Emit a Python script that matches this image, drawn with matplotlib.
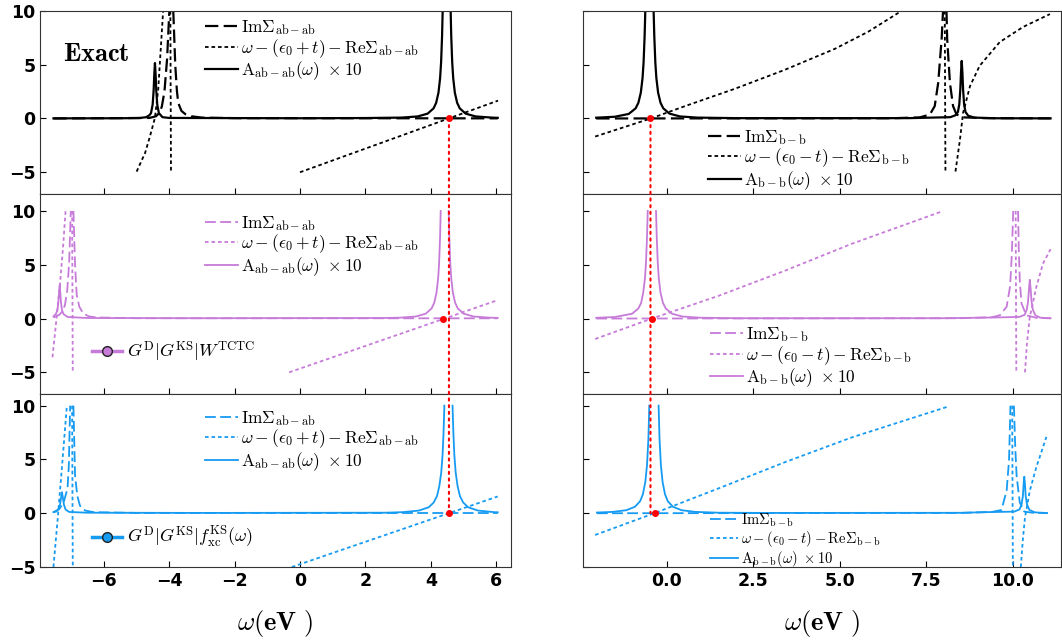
import numpy as np
import matplotlib.pyplot as plt
from matplotlib.lines import Line2D
from matplotlib.patches import ConnectionPatch

plt.rcParams['mathtext.fontset'] = 'cm'
plt.rcParams['font.weight'] = 'bold'

nan = np.nan

# ---------------- data ----------------
# top-left: exact, bonding-antibonding block
tl_A_x = [-7.53, -5.5, -4.9, -4.7, -4.6, -4.55, -4.50, -4.47, -4.45, -4.43, -4.41, -4.39, -4.36, -4.31, -4.2, -4.0,
          0.0, 2.0, 3.1, 3.6, 3.9, 4.08, 4.16, 4.23, 4.28, 4.31, 4.34, 4.358, nan,
          4.602, 4.62, 4.65, 4.68, 4.73, 4.8, 4.88, 5.06, 5.36, 5.86, 6.04]
tl_A_y = [0.01, 0.02, 0.04, 0.12, 0.3, 0.5, 1.3, 2.6, 4.1, 5.15, 4.1, 2.6, 1.3, 0.5, 0.12, 0.05,
          0.02, 0.04, 0.08, 0.19, 0.45, 0.94, 1.46, 2.4, 3.75, 5.2, 7.65, 10.0, nan,
          10.0, 7.65, 5.2, 3.75, 2.4, 1.46, 0.94, 0.45, 0.19, 0.08, 0.06]
tl_Im_x = [-7.53, -4.6, -4.4, -4.3, -4.22, -4.14, -4.06, -3.99, nan,
           -3.87, -3.81, -3.76, -3.72, -3.62, -3.5, -3.31, -3.0, -2.0, 6.04]
tl_Im_y = [0.0, 0.05, 0.2, 0.5, 1.1, 2.5, 5.5, 10.0, nan,
           10.0, 5.0, 2.6, 1.45, 0.7, 0.4, 0.2, 0.08, 0.03, 0.01]
tl_Re_x = [-4.99, -4.73, -4.58, -4.43, -4.33, -4.26, -4.18, nan, -3.96, -3.94, nan, 0.0, 3.0, 6.05]
tl_Re_y = [-4.94, -3.2, -1.64, 0.06, 2.7, 6.1, 10.0, nan, 10.0, -5.0, nan, -5.0, -1.7, 1.66]
tl_dot_x = 4.55

# middle-left: G^D|G^KS|W^TCTC
ml_A_x = [-7.53, -7.45, -7.41, -7.38, -7.36, -7.34, -7.32, -7.30, -7.27, -7.22, -7.1, -6.5, -3.0, 2.5,
          3.04, 3.54, 3.84, 4.02, 4.10, 4.17, 4.22, 4.25, 4.28, 4.298, nan,
          4.542, 4.56, 4.59, 4.62, 4.67, 4.74, 4.82, 5.0, 5.3, 5.8, 6.04]
ml_A_y = [0.2, 0.45, 0.8, 1.5, 2.4, 3.1, 2.4, 1.5, 0.8, 0.4, 0.15, 0.05, 0.03, 0.05,
          0.08, 0.19, 0.45, 0.94, 1.46, 2.4, 3.75, 5.2, 7.65, 10.0, nan,
          10.0, 7.65, 5.2, 3.75, 2.4, 1.46, 0.94, 0.45, 0.19, 0.08, 0.06]
ml_Im_x = [-7.53, -7.35, -7.25, -7.18, -7.11, -7.05, -7.0, nan,
           -6.92, -6.87, -6.82, -6.74, -6.62, -6.45, -6.2, -5.0, 6.04]
ml_Im_y = [0.1, 0.35, 0.7, 1.24, 2.6, 5.2, 10.0, nan,
           10.0, 5.0, 2.2, 1.1, 0.47, 0.2, 0.1, 0.03, 0.02]
ml_Re_x = [-7.56, -7.45, -7.33, -7.24, -7.16, nan, -6.96, -6.94, nan, -0.33, 6.04]
ml_Re_y = [-3.6, -0.4, 3.2, 6.5, 10.0, nan, 10.0, -5.0, nan, -5.0, 1.71]
ml_dot_x = 4.38

# bottom-left: G^D|G^KS|f_xc^KS(w)
bl_A_x = [-7.53, -7.45, -7.38, -7.33, -7.30, -7.27, -7.24, -7.21, -7.16, -7.05, -6.5, -3.0, 2.6,
          3.135, 3.635, 3.935, 4.085, 4.185, 4.255, 4.315, 4.355, 4.385, 4.41, nan,
          4.66, 4.685, 4.715, 4.755, 4.815, 4.885, 4.985, 5.135, 5.435, 5.935, 6.04]
bl_A_y = [0.1, 0.15, 0.35, 0.8, 1.4, 1.96, 1.4, 0.8, 0.35, 0.12, 0.05, 0.03, 0.05,
          0.1, 0.25, 0.56, 1.0, 1.6, 2.5, 3.8, 5.4, 7.5, 10.0, nan,
          10.0, 7.5, 5.4, 3.8, 2.5, 1.6, 1.0, 0.56, 0.25, 0.1, 0.09]
bl_Im_x = [-7.53, -7.35, -7.22, -7.1, -7.06, -7.02, nan,
           -6.92, -6.89, -6.87, -6.8, -6.72, -6.56, -6.3, -5.0, 6.04]
bl_Im_y = [0.1, 0.4, 1.0, 2.3, 4.5, 10.0, nan,
           10.0, 6.0, 3.5, 1.6, 0.7, 0.25, 0.1, 0.03, 0.02]
bl_Re_x = [-7.53, -7.4, -7.27, -7.12, nan, -6.96, -6.94, nan, -0.25, 6.04]
bl_Re_y = [-5.0, -0.5, 4.3, 10.0, nan, 10.0, -5.0, nan, -5.0, 1.56]
bl_dot_x = 4.54

# top-right: exact, b-b block
tr_A_x = [-2.04, -1.5, -1.1, -0.9, -0.82, -0.75, -0.70, -0.67, -0.64, -0.62, nan,
          -0.38, -0.36, -0.33, -0.30, -0.25, -0.18, -0.1, 0.08, 0.38, 0.88, 2.0, 7.0,
          8.2, 8.35, 8.42, 8.46, 8.49, 8.51, 8.53, 8.55, 8.57, 8.60, 8.64, 8.72, 8.9, 9.5, 11.1]
tr_A_y = [0.07, 0.16, 0.42, 0.94, 1.46, 2.4, 3.75, 5.2, 7.65, 10.0, nan,
          10.0, 7.65, 5.2, 3.75, 2.4, 1.46, 0.94, 0.45, 0.19, 0.08, 0.03, 0.03,
          0.12, 0.3, 0.6, 1.3, 2.7, 4.3, 5.35, 4.3, 2.7, 1.3, 0.6, 0.25, 0.08, 0.02, 0.01]
tr_Im_x = [-2.04, 6.5, 7.32, 7.61, 7.75, 7.85, 7.95, 7.99, nan,
           8.09, 8.11, 8.19, 8.28, 8.38, 8.6, 9.2, 11.1]
tr_Im_y = [0.0, 0.02, 0.1, 0.37, 1.15, 3.3, 7.4, 10.0, nan,
           10.0, 7.4, 3.3, 1.15, 0.37, 0.1, 0.03, 0.01]
tr_Re_x = [-2.07, -0.46, 0.53, 1.97, 3.42, 4.86, 5.83, 6.79, nan, 8.04, 8.06, nan,
           8.35, 8.48, 8.57, 8.77, 9.05, 9.63, 10.3, 11.08]
tr_Re_y = [-1.68, 0.0, 1.15, 2.76, 4.53, 6.47, 8.07, 10.0, nan, 10.0, -5.0, nan,
           -4.93, -1.96, 0.52, 3.0, 4.9, 7.1, 8.5, 9.7]
tr_dot_x = -0.47

# middle-right
mr_A_x = [-2.04, -1.5, -1.0, -0.82, -0.74, -0.68, -0.63, -0.60, -0.57, -0.55, nan,
          -0.31, -0.29, -0.26, -0.23, -0.18, -0.11, -0.03, 0.15, 0.45, 0.95, 2.0, 8.0, 9.5,
          10.2, 10.35, 10.41, 10.45, 10.48, 10.5, 10.52, 10.55, 10.59, 10.66, 10.8, 11.1]
mr_A_y = [0.07, 0.14, 0.45, 0.94, 1.46, 2.4, 3.75, 5.2, 7.65, 10.0, nan,
          10.0, 7.65, 5.2, 3.75, 2.4, 1.46, 0.94, 0.45, 0.19, 0.08, 0.03, 0.03, 0.1,
          0.15, 0.35, 0.8, 1.6, 2.9, 3.6, 2.9, 1.6, 0.8, 0.3, 0.08, 0.03]
mr_Im_x = [-2.04, 8.5, 9.4, 9.63, 9.83, 9.93, 9.98, 10.02, nan,
           10.16, 10.18, 10.21, 10.26, 10.4, 10.7, 11.1]
mr_Im_y = [0.0, 0.03, 0.12, 0.3, 1.1, 3.0, 6.0, 10.0, nan,
           10.0, 6.5, 3.5, 1.4, 0.3, 0.06, 0.02]
mr_Re_x = [-2.07, -0.43, 1.49, 3.42, 5.35, 7.95, nan, 10.09, 10.11, nan,
           10.36, 10.42, 10.5, 10.69, 10.88, 11.1]
mr_Re_y = [-1.9, 0.0, 2.1, 4.45, 6.95, 9.95, nan, 10.0, -5.0, nan,
           -5.0, -2.2, 0.15, 2.95, 5.1, 6.45]
mr_dot_x = -0.43

# bottom-right
br_A_x = [-2.02, -1.57, -1.17, -0.92, -0.77, -0.69, -0.62, -0.57, -0.53, -0.505, nan,
          -0.235, -0.21, -0.17, -0.12, -0.05, 0.03, 0.18, 0.43, 0.83, 1.5, 3.0, 8.5, 9.2,
          10.05, 10.2, 10.26, 10.3, 10.32, 10.34, 10.36, 10.38, 10.42, 10.49, 10.65, 11.0]
br_A_y = [0.066, 0.125, 0.28, 0.6, 1.12, 1.76, 2.9, 4.5, 7.0, 10.0, nan,
          10.0, 7.0, 4.5, 2.9, 1.76, 1.12, 0.6, 0.28, 0.125, 0.05, 0.03, 0.04, 0.1,
          0.15, 0.35, 0.8, 1.6, 2.7, 3.4, 2.7, 1.6, 0.8, 0.3, 0.08, 0.02]
br_Im_x = [-2.02, 8.5, 9.4, 9.68, 9.83, 9.9, 9.94, nan,
           10.04, 10.08, 10.12, 10.21, 10.34, 10.6, 11.0]
br_Im_y = [0.0, 0.03, 0.12, 0.3, 2.1, 5.0, 10.0, nan,
           10.0, 6.0, 3.4, 1.0, 0.15, 0.04, 0.02]
br_Re_x = [-2.07, -0.36, 1.49, 3.42, 5.35, 8.12, nan, 9.99, 10.01, nan,
           10.24, 10.3, 10.36, 10.5, 10.69, 10.98]
br_Re_y = [-2.02, 0.0, 2.3, 4.75, 7.05, 9.9, nan, 10.0, -5.0, nan,
           -5.0, -2.4, -0.4, 2.1, 4.3, 7.1]
br_dot_x = -0.34

row_colors = ['black', '#c77bd9', '#169bf2']
row_ylims = [(-7.0, 10.0), (-7.0, 11.6), (-5.0, 11.1)]
method_labels = [None, r'$G^{\mathrm{D}}|G^{\mathrm{KS}}|W^{\mathrm{TCTC}}$',
                 r'$G^{\mathrm{D}}|G^{\mathrm{KS}}|f_{\mathrm{xc}}^{\mathrm{KS}}(\omega)$']

labels_ab = [r'$\mathrm{Im}\Sigma_{\mathrm{ab}-\mathrm{ab}}$',
             r'$\omega-(\epsilon_0+t)-\mathrm{Re}\Sigma_{\mathrm{ab}-\mathrm{ab}}$',
             r'$\mathrm{A}_{\mathrm{ab}-\mathrm{ab}}(\omega)\ \times 10$']
labels_b = [r'$\mathrm{Im}\Sigma_{\mathrm{b}-\mathrm{b}}$',
            r'$\omega-(\epsilon_0-t)-\mathrm{Re}\Sigma_{\mathrm{b}-\mathrm{b}}$',
            r'$\mathrm{A}_{\mathrm{b}-\mathrm{b}}(\omega)\ \times 10$']

left_data = [(tl_A_x, tl_A_y, tl_Im_x, tl_Im_y, tl_Re_x, tl_Re_y, tl_dot_x),
             (ml_A_x, ml_A_y, ml_Im_x, ml_Im_y, ml_Re_x, ml_Re_y, ml_dot_x),
             (bl_A_x, bl_A_y, bl_Im_x, bl_Im_y, bl_Re_x, bl_Re_y, bl_dot_x)]
right_data = [(tr_A_x, tr_A_y, tr_Im_x, tr_Im_y, tr_Re_x, tr_Re_y, tr_dot_x),
              (mr_A_x, mr_A_y, mr_Im_x, mr_Im_y, mr_Re_x, mr_Re_y, mr_dot_x),
              (br_A_x, br_A_y, br_Im_x, br_Im_y, br_Re_x, br_Re_y, br_dot_x)]

# legend anchors (axes fraction) and font sizes
left_leg = [(0.35, 0.785, 12.5), (0.35, 0.74, 12.5), (0.35, 0.728, 12.5)]
right_leg = [(0.262, 0.185, 12.5), (0.266, 0.183, 12.5), (0.266, 0.155, 10.5)]
method_leg = [None, (0.11, 0.21), (0.11, 0.169)]

fig = plt.figure(figsize=(10.62, 6.41), dpi=100)
gl = fig.add_gridspec(3, 1, left=0.038, right=0.481, top=0.983, bottom=0.1154,
                      hspace=0, height_ratios=[17.0, 18.6, 16.1])
gr = fig.add_gridspec(3, 1, left=0.5487, right=0.999, top=0.983, bottom=0.1154,
                      hspace=0, height_ratios=[17.0, 18.6, 16.1])


def draw_panel(ax, data, color, labels, leg):
    A_x, A_y, Im_x, Im_y, Re_x, Re_y, dot_x = data
    lw = 1.6 if color == 'black' else 1.3
    h_im, = ax.plot(Im_x, Im_y, color=color, lw=lw, dashes=(6, 2.4))
    h_re, = ax.plot(Re_x, Re_y, color=color, lw=1.3, dashes=(2, 1.6))
    h_a, = ax.plot(A_x, A_y, color=color, lw=lw)
    ax.plot([dot_x], [0], 'o', color='red', ms=4, zorder=6)
    lg = ax.legend([h_im, h_re, h_a], labels, loc='center left', bbox_to_anchor=(leg[0], leg[1]),
                   frameon=False, fontsize=leg[2], handlelength=1.9, handletextpad=0.2,
                   labelspacing=0.0, borderpad=0, borderaxespad=0)
    return lg


axes_l = []
axes_r = []
for i in range(3):
    axl = fig.add_subplot(gl[i])
    axr = fig.add_subplot(gr[i])
    axes_l.append(axl)
    axes_r.append(axr)
    c = row_colors[i]
    lg = draw_panel(axl, left_data[i], c, labels_ab, left_leg[i])
    draw_panel(axr, right_data[i], c, labels_b, right_leg[i])
    if method_leg[i] is not None:
        axl.add_artist(lg)
        mh = Line2D([], [], color=c, lw=2.5, marker='o', ms=7, mfc=c, mec='#222222', mew=1.0)
        axl.legend([mh], [method_labels[i]], loc='center left', bbox_to_anchor=method_leg[i],
                   frameon=False, fontsize=13, handlelength=1.65, handletextpad=0.3,
                   borderpad=0, borderaxespad=0)
    for ax in (axl, axr):
        ax.set_ylim(*row_ylims[i])
        ax.set_yticks([-5, 0, 5, 10])
        ax.tick_params(direction='in', length=4, labelsize=12.5)
        for s in ax.spines.values():
            s.set_color('#333333')
    axl.set_xlim(-7.93, 6.44)
    axl.set_xticks([-6, -4, -2, 0, 2, 4, 6])
    axr.set_xlim(-2.43, 11.4)
    axr.set_xticks([0, 2.5, 5, 7.5, 10])
    axr.set_xticklabels(['0.0', '2.5', '5.0', '7.5', '10.0'])
    axr.tick_params(labelleft=False)
    if i < 2:
        axl.tick_params(labelbottom=False)
        axr.tick_params(labelbottom=False)

axes_l[0].text(0.049, 0.765, r'$\mathbf{Exact}$', transform=axes_l[0].transAxes,
               fontsize=19, ha='left', va='center')

# red guide lines between top and bottom panels
for axes, xv in ((axes_l, tl_dot_x), (axes_r, tr_dot_x)):
    con = ConnectionPatch(xyA=(xv, 0), coordsA=axes[0].transData,
                          xyB=(xv, 0), coordsB=axes[2].transData,
                          color='red', lw=1.5, linestyle=(0, (1, 2.2)), zorder=10)
    fig.add_artist(con)

fig.text(0.2595, 0.028, r'$\omega\mathbf{(eV\ )}$', ha='center', va='center', fontsize=19)
fig.text(0.774, 0.028, r'$\omega\mathbf{(eV\ )}$', ha='center', va='center', fontsize=19)

fig.savefig('out.png', dpi=100)
